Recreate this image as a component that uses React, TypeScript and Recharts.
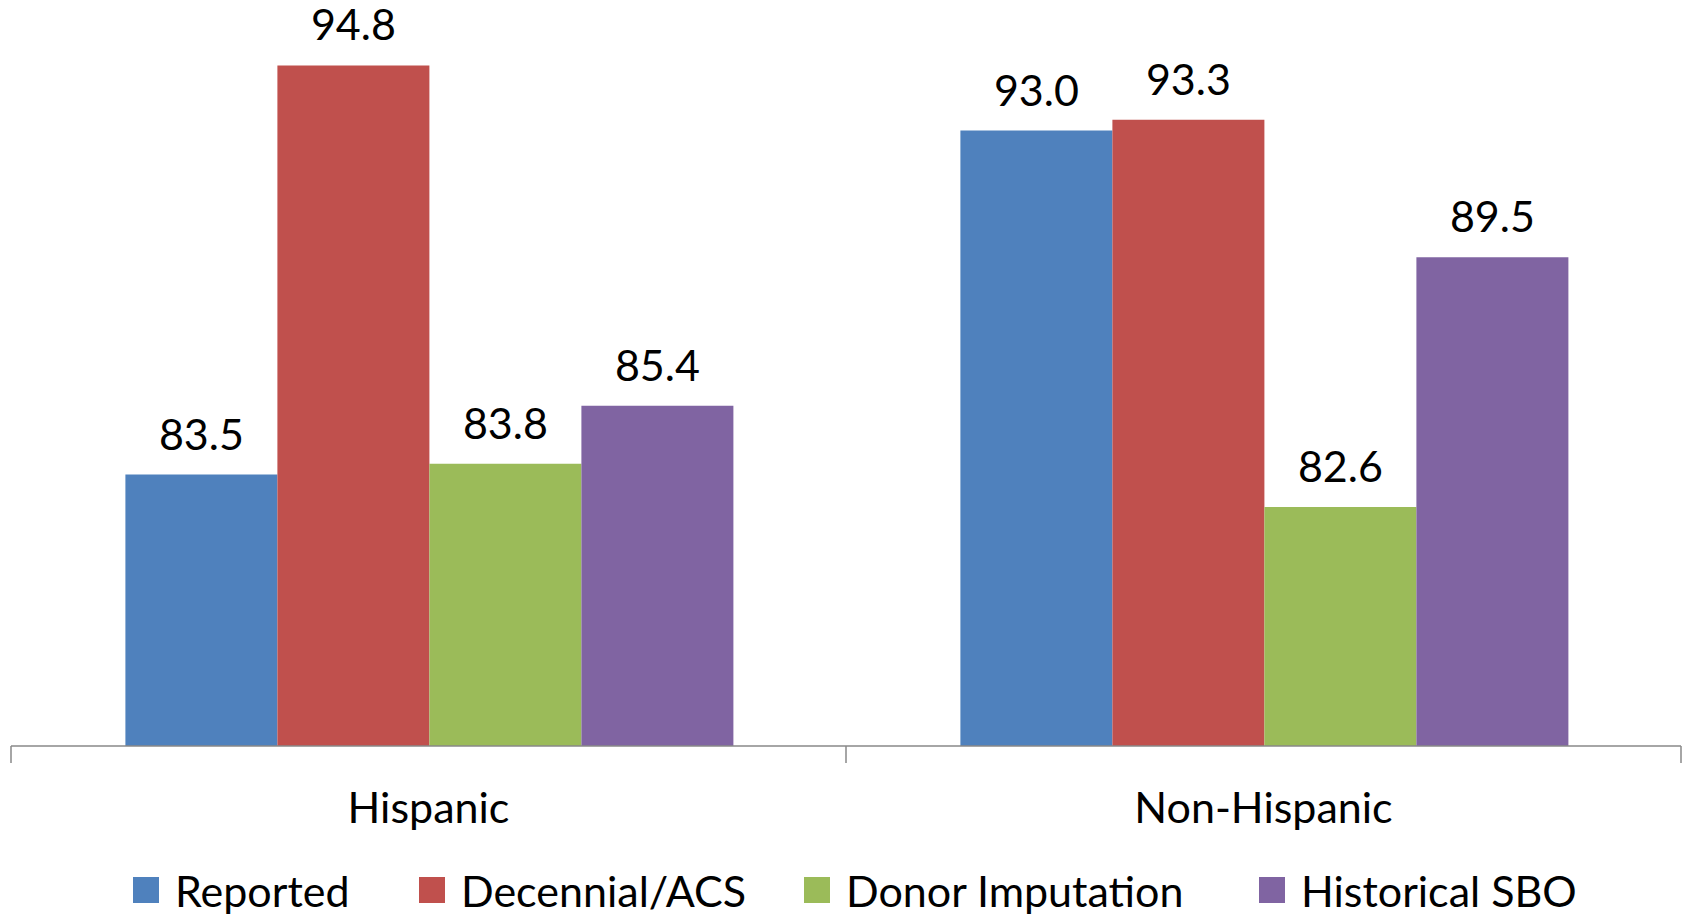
import React from 'react';
import { BarChart, Bar, XAxis, YAxis, Legend, LabelList } from 'recharts';

const categories = ['Hispanic', 'Non-Hispanic'];
const reported = [83.5, 93.0];
const decennial = [94.8, 93.3];
const donor = [83.8, 82.6];
const historical = [85.4, 89.5];
const seriesNames = ['Reported', 'Decennial/ACS', 'Donor Imputation', 'Historical SBO'];

const colors = ['#4F81BD', '#C0504D', '#9BBB59', '#8064A2'];
const axisGray = '#898989';
const font = 'Lato, "Open Sans", sans-serif';
const legendLefts = [133, 419, 804, 1259];

const data = categories.map((name, i) => ({
  name,
  reported: reported[i],
  decennial: decennial[i],
  donor: donor[i],
  historical: historical[i],
}));

const keys = ['reported', 'decennial', 'donor', 'historical'];

// category label plus the tick marks on the band edges (Excel style)
function CategoryTick(props: any) {
  const { x, y, payload, index } = props;
  const half = payload && payload.offset ? payload.offset : 0;
  return (
    <g>
      {half > 0 && index === 0 && (
        <line x1={x - half} x2={x - half} y1={y} y2={y + 17} stroke={axisGray} strokeWidth={1.5} />
      )}
      {half > 0 && (
        <line x1={x + half} x2={x + half} y1={y} y2={y + 17} stroke={axisGray} strokeWidth={1.5} />
      )}
      <text x={x} y={y} dy={77} textAnchor="middle" fill="#000" fontSize={43} fontFamily={font}>
        {payload.value}
      </text>
    </g>
  );
}

function LegendContent() {
  return (
    <div style={{ position: 'relative', width: 1685, height: 54, fontFamily: font, fontSize: 43, lineHeight: 1, color: '#000' }}>
      {seriesNames.map((name, i) => (
        <div
          key={name}
          style={{ position: 'absolute', left: legendLefts[i], top: 0, height: 54, display: 'flex', alignItems: 'center', whiteSpace: 'nowrap' }}
        >
          <span style={{ width: 26, height: 26, background: colors[i], marginRight: 16, display: 'inline-block' }} />
          <span>{name}</span>
        </div>
      ))}
    </div>
  );
}

export default function App() {
  return (
    <div style={{ position: 'absolute', left: 0, top: 0, width: 1685, height: 917, background: '#fff' }}>
      <BarChart
        width={1685}
        height={917}
        data={data}
        margin={{ top: 22, right: 4, bottom: 0, left: 11 }}
        barCategoryGap="13.7%"
        barGap={0}
        style={{ fontFamily: font }}
      >
        <XAxis
          dataKey="name"
          height={117}
          axisLine={{ stroke: axisGray, strokeWidth: 1.5 }}
          tickLine={false}
          tickSize={0}
          tickMargin={0}
          tick={<CategoryTick />}
          interval={0}
        />
        <YAxis hide domain={[76, 96]} allowDataOverflow />
        <Legend verticalAlign="bottom" wrapperStyle={{ left: 0, width: 1685 }} content={<LegendContent />} />
        {keys.map((k, i) => (
          <Bar key={k} dataKey={k} name={seriesNames[i]} fill={colors[i]} isAnimationActive={false}>
            <LabelList
              dataKey={k}
              position="top"
              offset={25}
              fill="#000"
              fontSize={43}
              fontFamily={font}
              formatter={(v: any) => Number(v).toFixed(1)}
            />
          </Bar>
        ))}
      </BarChart>
    </div>
  );
}
